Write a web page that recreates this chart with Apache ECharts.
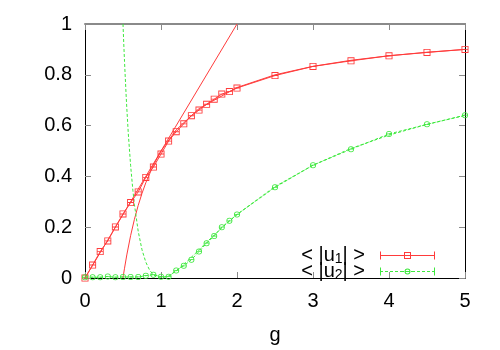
<!DOCTYPE html>
<html>
<head>
<meta charset="utf-8">
<script src="https://cdn.jsdelivr.net/npm/echarts@6/dist/echarts.min.js"></script>
<style>
html,body{margin:0;padding:0;background:#fff;}
#c{width:500px;height:350px;}
</style>
</head>
<body>
<div id="c"></div>
<script>
// ---- data ----
var gValues = [0,0.1,0.2,0.3,0.4,0.5,0.6,0.7,0.8,0.9,1.0,1.1,1.2,1.3,1.4,1.5,1.6,1.7,1.8,1.9,2.0,2.5,3.0,3.5,4.0,4.5,5.0];
var u1Values = [0,0.051,0.104,0.146,0.201,0.252,0.297,0.339,0.396,0.437,0.488,0.539,0.576,0.607,0.639,0.661,0.684,0.704,0.724,0.734,0.748,0.797,0.833,0.855,0.875,0.888,0.9];
var u2Values = [0.003,0.003,0.003,0.006,0.003,0.004,0.004,0.004,0.009,0.013,0.005,0.005,0.030,0.048,0.072,0.104,0.137,0.165,0.20,0.225,0.25,0.357,0.444,0.507,0.567,0.605,0.641];

// reference curves
var lineAX = [0, 2];
var lineAY = [0, 1];
var curveBX = [0.5,0.505,0.51,0.52,0.55,0.6,0.65,0.7,0.75,0.8,0.9,1.0,1.2,1.5,2.0,2.5,3.0,3.5,4.0,4.5,5.0];
var curveBY = [0,0.0099,0.0196,0.0385,0.0909,0.1667,0.2308,0.2857,0.3333,0.375,0.4444,0.5,0.5833,0.6667,0.75,0.8,0.8333,0.8571,0.875,0.8889,0.9];
var curveCX = [0.5,0.51,0.52,0.54,0.55,0.57,0.6,0.63,0.65,0.7,0.75,0.8,0.85,0.9,0.95,1.0,1.1,1.2,1.3,1.4,1.5,1.6,1.8,2.0,2.5,3.0,3.5,4.0,4.5,5.0];
var curveCY = [1,0.923,0.852,0.726,0.669,0.567,0.444,0.345,0.290,0.184,0.111,0.0625,0.0311,0.0123,0.0028,0,0.0083,0.0278,0.0533,0.0816,0.111,0.1406,0.1975,0.25,0.36,0.444,0.5102,0.5625,0.6049,0.64];

var yTickLabels = ['0','0.2','0.4','0.6','0.8','1'];
var xTickLabels = ['0','1','2','3','4','5'];
var seriesNames = ['u1','u2'];

function pairs(xs, ys){ return xs.map(function(x,i){ return [x, ys[i]]; }); }

var RED = '#ff3b3b';
var GREEN = '#3ee83e';
var FONT = 'Liberation Sans, Arial, Helvetica, sans-serif';

var sqSymbol = 'path://M0,0H8V8H0Z M1,1V7H7V1Z M1,3.5H7V4.5H1Z';
var ciSymbol = 'path://M0,4A4,4 0 1,1 8,4A4,4 0 1,1 0,4Z M1,4A3,3 0 1,0 7,4A3,3 0 1,0 1,4Z M1,3.5H7V4.5H1Z';

var legIconRed = 'path://M0,3.5H55V4.5H0Z M0,0H1V8H0Z M54,0H55V8H54Z M24,0.5H31V7.5H24Z M25,1.5V6.5H30V1.5Z';
var legIconGreen = 'path://M0,3.5H3V4.5H0Z M5,3.5H8V4.5H5Z M10,3.5H13V4.5H10Z M15,3.5H18V4.5H15Z M20,3.5H24V4.5H20Z M31,3.5H35V4.5H31Z M37,3.5H40V4.5H37Z M42,3.5H45V4.5H42Z M47,3.5H50V4.5H47Z M52,3.5H55V4.5H52Z M0,0H1V8H0Z M54,0H55V8H54Z M24.5,4A3,3 0 1,1 30.5,4A3,3 0 1,1 24.5,4Z M25.5,4A2,2 0 1,0 29.5,4A2,2 0 1,0 25.5,4Z M25.5,3.5H29.5V4.5H25.5Z';

var chart = echarts.init(document.getElementById('c'), null, {renderer:'canvas'});
var tickStyle = {show:true, inside:true, length:6, lineStyle:{color:'#8a8a8a', width:1}};

chart.setOption({
  animation:false,
  backgroundColor:'#fff',
  grid:{left:85, right:35, top:24, bottom:63, containLabel:false},
  legend:{
    orient:'vertical', right:60, top:240, align:'right',
    itemWidth:55, itemHeight:8, itemGap:-5,
    data:[{name:seriesNames[0], icon:legIconRed},{name:seriesNames[1], icon:legIconGreen}],
    textStyle:{fontFamily:FONT, fontSize:20, lineHeight:20, color:'#000', padding:[0,10,0,0],
      rich:{sub:{fontFamily:FONT, fontSize:14, lineHeight:14, color:'#000', padding:[7,0,0,0]}}},
    formatter:function(n){ return n==='u1' ? '< |u{sub|1}| >' : '< |u{sub|2}| >'; }
  },
  xAxis:[{
    type:'value', min:0, max:5, interval:1, position:'bottom',
    name:'g', nameLocation:'middle', nameGap:47,
    nameTextStyle:{fontFamily:FONT, fontSize:20, color:'#000'},
    axisLine:{show:true, onZero:false, lineStyle:{color:'#000', width:1}},
    axisTick:tickStyle,
    axisLabel:{fontFamily:FONT, fontSize:20, color:'#000', margin:13,
      formatter:function(v){ return xTickLabels[Math.round(v)]; }},
    splitLine:{show:false}
  },{
    type:'value', min:0, max:5, interval:1, position:'top',
    axisLine:{show:true, onZero:false, lineStyle:{color:'#8a8a8a', width:2}},
    axisTick:tickStyle, axisLabel:{show:false}, splitLine:{show:false}
  }],
  yAxis:[{
    type:'value', min:0, max:1, interval:0.2, position:'left',
    axisLine:{show:true, onZero:false, lineStyle:{color:'#000', width:1}},
    axisTick:tickStyle,
    axisLabel:{fontFamily:FONT, fontSize:20, color:'#000', margin:13,
      formatter:function(v){ return yTickLabels[Math.round(v*5)]; }},
    splitLine:{show:false}
  },{
    type:'value', min:0, max:1, interval:0.2, position:'right',
    axisLine:{show:true, onZero:false, lineStyle:{color:'#000', width:1}},
    axisTick:tickStyle, axisLabel:{show:false}, splitLine:{show:false}
  }],
  series:[
    {type:'line', name:'refA', data:pairs(lineAX,lineAY), showSymbol:false, symbol:'none',
      lineStyle:{color:RED, width:1}, itemStyle:{color:RED}, silent:true, z:2},
    {type:'line', name:'refB', data:pairs(curveBX,curveBY), showSymbol:false, symbol:'none',
      lineStyle:{color:RED, width:1}, itemStyle:{color:RED}, silent:true, z:2},
    {type:'line', name:'refC', data:pairs(curveCX,curveCY), showSymbol:false, symbol:'none', clip:true,
      lineStyle:{color:GREEN, width:1, type:[3,2]}, itemStyle:{color:GREEN}, silent:true, z:2},
    {type:'line', name:seriesNames[0], data:pairs(gValues,u1Values), symbol:sqSymbol, symbolSize:7,
      lineStyle:{color:RED, width:1}, itemStyle:{color:RED, borderWidth:0}, z:3},
    {type:'line', name:seriesNames[1], data:pairs(gValues,u2Values), symbol:ciSymbol, symbolSize:6,
      lineStyle:{color:GREEN, width:1, type:[3,2]}, itemStyle:{color:GREEN, borderWidth:0}, z:3}
  ]
});
</script>
</body>
</html>
